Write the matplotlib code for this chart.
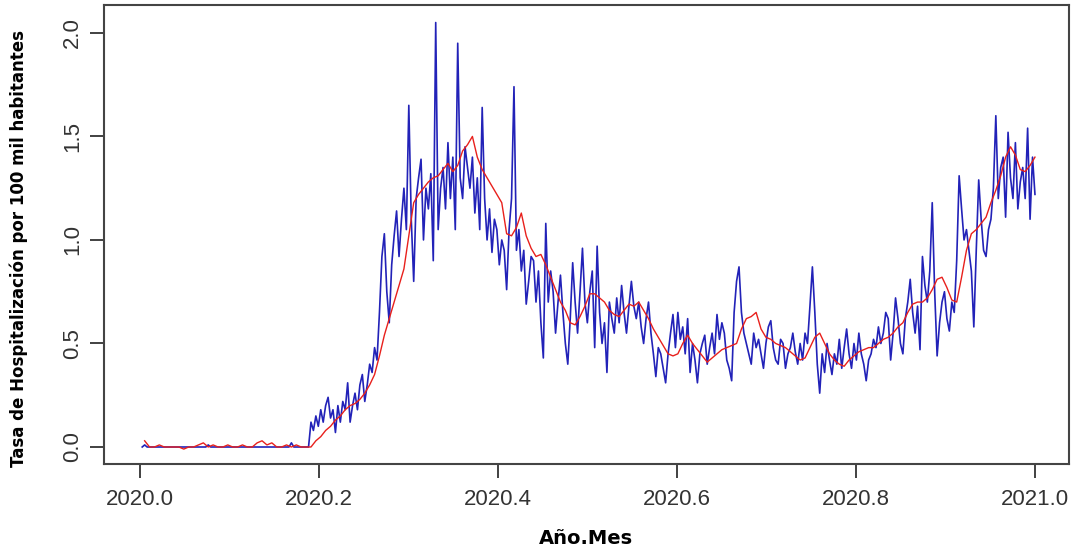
import numpy as np
import matplotlib.pyplot as plt

# Tasa diaria de hospitalización (por 100 mil habitantes), días 1..366 de 2020
tasa_diaria = [
    0.00, 0.01, 0.00, 0.00, 0.00, 0.00, 0.00, 0.00, 0.00, 0.00,
    0.00, 0.00, 0.00, 0.00, 0.00, 0.00, 0.00, 0.00, 0.00, 0.00,
    0.00, 0.00, 0.00, 0.00, 0.00, 0.00, 0.00, 0.01, 0.00, 0.00,
    0.00, 0.00, 0.00, 0.00, 0.00, 0.00, 0.00, 0.00, 0.00, 0.00,
    0.00, 0.00, 0.00, 0.00, 0.00, 0.00, 0.00, 0.00, 0.00, 0.00,
    0.00, 0.00, 0.00, 0.00, 0.00, 0.00, 0.00, 0.00, 0.00, 0.00,
    0.00, 0.02, 0.00, 0.00, 0.00, 0.00, 0.00, 0.00, 0.00, 0.12,
    0.08, 0.15, 0.10, 0.18, 0.12, 0.20, 0.24, 0.14, 0.18, 0.07,
    0.20, 0.12, 0.22, 0.18, 0.31, 0.12, 0.20, 0.26, 0.18, 0.30,
    0.35, 0.22, 0.30, 0.40, 0.36, 0.48, 0.42, 0.65, 0.92, 1.03,
    0.75, 0.60, 0.88, 1.02, 1.14, 0.92, 1.10, 1.25, 1.05, 1.65,
    1.10, 0.80, 1.20, 1.30, 1.39, 1.00, 1.25, 1.15, 1.32, 0.90,
    2.05, 1.05, 1.25, 1.35, 1.15, 1.47, 1.20, 1.40, 1.05, 1.95,
    1.30, 1.20, 1.45, 1.35, 1.25, 1.40, 1.13, 1.30, 1.05, 1.64,
    1.20, 1.00, 1.15, 0.94, 1.10, 1.05, 0.88, 1.00, 0.95, 0.76,
    1.05, 1.20, 1.74, 0.95, 1.05, 0.85, 0.95, 0.69, 0.80, 0.92,
    0.90, 0.70, 0.85, 0.60, 0.43, 1.08, 0.70, 0.85, 0.75, 0.55,
    0.70, 0.83, 0.65, 0.50, 0.40, 0.62, 0.89, 0.70, 0.55, 0.75,
    0.96, 0.70, 0.60, 0.75, 0.85, 0.48, 0.97, 0.65, 0.50, 0.60,
    0.36, 0.70, 0.62, 0.55, 0.72, 0.60, 0.78, 0.65, 0.55, 0.68,
    0.80, 0.68, 0.62, 0.70, 0.58, 0.50, 0.62, 0.70, 0.55, 0.45,
    0.34, 0.48, 0.45, 0.38, 0.31, 0.45, 0.55, 0.64, 0.48, 0.65,
    0.52, 0.58, 0.45, 0.62, 0.36, 0.50, 0.42, 0.31, 0.45, 0.50,
    0.54, 0.40, 0.48, 0.55, 0.45, 0.64, 0.52, 0.60, 0.55, 0.42,
    0.38, 0.32, 0.65, 0.80, 0.87, 0.65, 0.55, 0.50, 0.45, 0.40,
    0.55, 0.48, 0.52, 0.45, 0.38, 0.50, 0.58, 0.61, 0.48, 0.42,
    0.40, 0.52, 0.50, 0.38, 0.45, 0.48, 0.55, 0.46, 0.40, 0.50,
    0.42, 0.55, 0.50, 0.68, 0.87, 0.65, 0.40, 0.26, 0.45, 0.36,
    0.50, 0.42, 0.35, 0.45, 0.40, 0.52, 0.38, 0.48, 0.57, 0.45,
    0.38, 0.50, 0.42, 0.55, 0.45, 0.40, 0.32, 0.42, 0.45, 0.52,
    0.48, 0.58, 0.50, 0.55, 0.65, 0.62, 0.42, 0.55, 0.72, 0.62,
    0.50, 0.45, 0.62, 0.70, 0.81, 0.65, 0.55, 0.68, 0.47, 0.92,
    0.78, 0.70, 0.85, 1.18, 0.75, 0.44, 0.60, 0.70, 0.75, 0.62,
    0.56, 0.70, 0.65, 0.90, 1.31, 1.15, 1.00, 1.05, 0.95, 0.85,
    0.58, 0.95, 1.29, 1.10, 0.95, 0.92, 1.05, 1.10, 1.25, 1.60,
    1.20, 1.35, 1.40, 1.11, 1.52, 1.30, 1.20, 1.47, 1.15, 1.28,
    1.35, 1.20, 1.54, 1.10, 1.40, 1.22,
]

# Serie suavizada, un valor cada dos días (días 2, 4, ..., 366)
tasa_suavizada = [
    0.03, 0.00, 0.00, 0.01, 0.00, 0.00, 0.00, 0.00, -0.01, 0.00,
    0.00, 0.01, 0.02, 0.00, 0.01, 0.00, 0.00, 0.01, 0.00, 0.00,
    0.01, 0.00, 0.00, 0.02, 0.03, 0.01, 0.02, 0.00, 0.00, 0.01,
    0.00, 0.01, 0.00, 0.00, 0.00, 0.03, 0.05, 0.08, 0.10, 0.13,
    0.15, 0.18, 0.20, 0.21, 0.23, 0.26, 0.30, 0.35, 0.44, 0.54,
    0.62, 0.70, 0.78, 0.86, 1.02, 1.18, 1.22, 1.25, 1.28, 1.30,
    1.31, 1.34, 1.37, 1.33, 1.36, 1.43, 1.46, 1.50, 1.40, 1.34,
    1.30, 1.26, 1.22, 1.18, 1.03, 1.02, 1.06, 1.13, 1.02, 0.96,
    0.92, 0.93, 0.88, 0.82, 0.76, 0.70, 0.66, 0.60, 0.59, 0.63,
    0.68, 0.74, 0.74, 0.72, 0.70, 0.66, 0.64, 0.63, 0.66, 0.69,
    0.68, 0.70, 0.66, 0.62, 0.57, 0.53, 0.49, 0.45, 0.44, 0.45,
    0.50, 0.54, 0.50, 0.47, 0.44, 0.41, 0.43, 0.45, 0.47, 0.48,
    0.49, 0.50, 0.57, 0.62, 0.63, 0.65, 0.57, 0.53, 0.52, 0.50,
    0.49, 0.48, 0.46, 0.44, 0.42, 0.43, 0.48, 0.53, 0.55, 0.50,
    0.45, 0.42, 0.40, 0.39, 0.42, 0.44, 0.46, 0.47, 0.48, 0.48,
    0.50, 0.52, 0.53, 0.55, 0.58, 0.60, 0.65, 0.69, 0.70, 0.70,
    0.72, 0.76, 0.81, 0.82, 0.77, 0.71, 0.70, 0.82, 0.95, 1.03,
    1.05, 1.08, 1.11, 1.18, 1.24, 1.31, 1.40, 1.45, 1.41, 1.34,
    1.33, 1.36, 1.40,
]

x_ticks = [2020.0, 2020.2, 2020.4, 2020.6, 2020.8, 2021.0]
y_ticks = [0.0, 0.5, 1.0, 1.5, 2.0]

dias = np.arange(1, len(tasa_diaria) + 1)
t_diaria = 2020 + dias / 366
t_suav = 2020 + np.arange(2, 367, 2) / 366

fig = plt.figure(figsize=(10.75, 5.5), dpi=100)
ax = fig.add_axes([0.0967, 0.1564, 0.8977, 0.8346])

ax.plot(t_diaria, tasa_diaria, color='#2222b8', lw=1.2)
ax.plot(t_suav, tasa_suavizada, color='#e8201c', lw=1.0)

ax.set_xlim(2019.96, 2021.038)
ax.set_ylim(-0.082, 2.135)

tick_font = dict(family=['Liberation Sans Narrow', 'Liberation Sans'], size=16, color='#333333')
ax.set_xticks(x_ticks)
ax.set_xticklabels([f'{v:.1f}' for v in x_ticks], **tick_font)
ax.set_yticks(y_ticks)
ax.set_yticklabels([f'{v:.1f}' for v in y_ticks], rotation=90, va='center', **tick_font)
ax.tick_params(axis='both', length=10, width=1.3, color='#333333', direction='out')
ax.tick_params(axis='x', pad=8)
ax.tick_params(axis='y', pad=5)

for s in ax.spines.values():
    s.set_color('#444444')
    s.set_linewidth(1.5)

ax.set_xlabel('Año.Mes', fontsize=14, fontweight='bold', labelpad=14)
ax.set_ylabel('Tasa de Hospitalización por 100 mil habitantes', fontsize=12,
              fontweight='bold')
ax.yaxis.set_label_coords(-0.079, 0.47)

fig.savefig('out.png', dpi=100, facecolor='white')
